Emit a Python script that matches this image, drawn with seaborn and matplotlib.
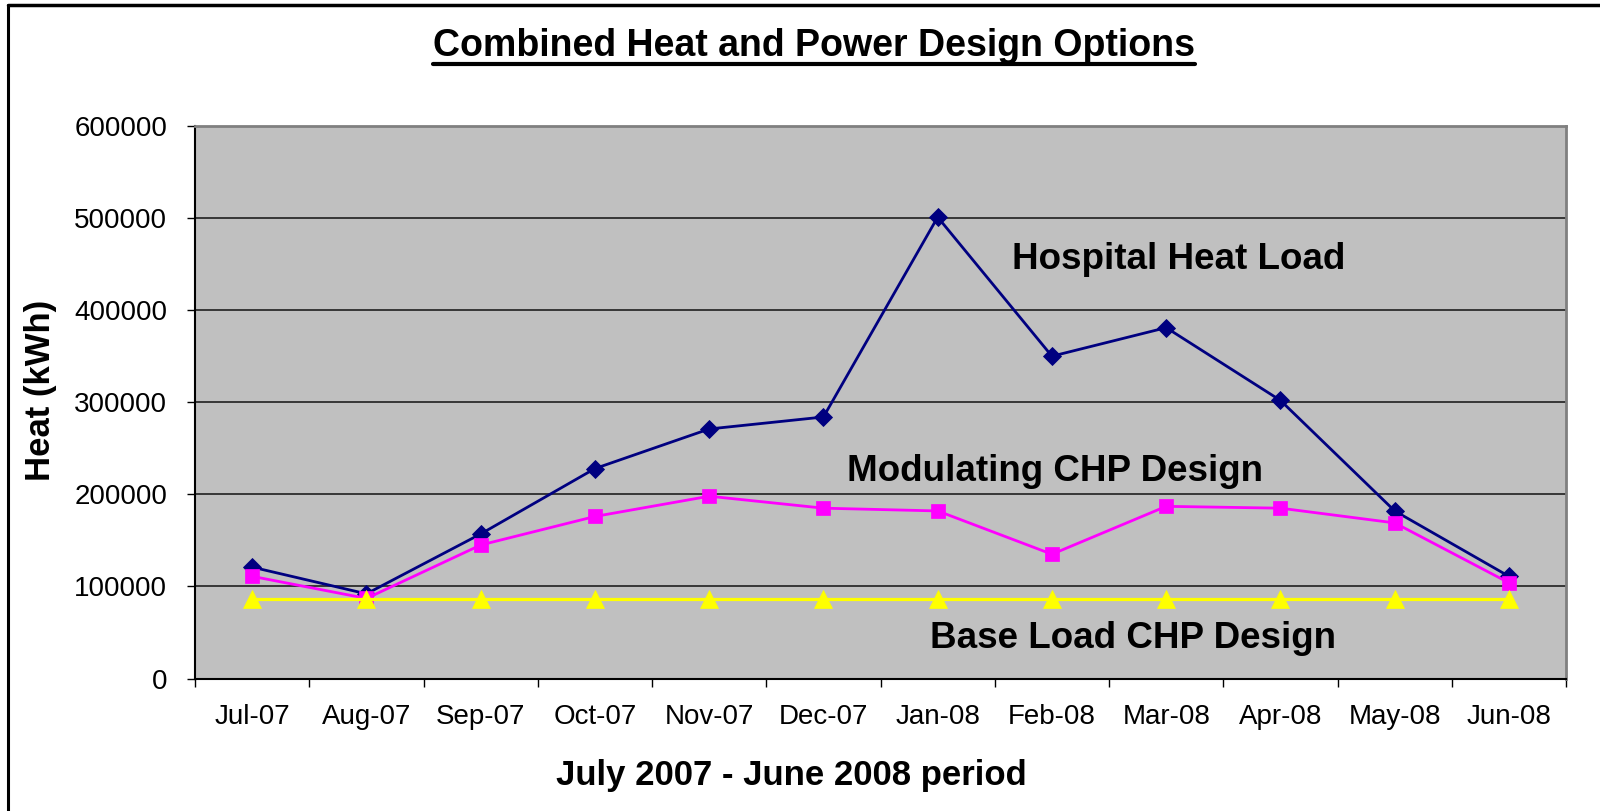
import numpy as np
import pandas as pd
import matplotlib
matplotlib.use("Agg")
import matplotlib.pyplot as plt
import seaborn as sns
from matplotlib.lines import Line2D

# Data
months = ["Jul-07", "Aug-07", "Sep-07", "Oct-07", "Nov-07", "Dec-07",
          "Jan-08", "Feb-08", "Mar-08", "Apr-08", "May-08", "Jun-08"]
hospital = [121000, 92000, 157000, 228000, 271000, 284000,
            501000, 350000, 381000, 302000, 182000, 111000]
modulating = [111000, 87000, 145000, 176000, 198000, 185000,
              182000, 135000, 187000, 185000, 169000, 104000]
base_load = [86500, 86500, 86500, 86500, 86500, 86500,
             86500, 86500, 86500, 86500, 86500, 86500]
yticks = [0, 100000, 200000, 300000, 400000, 500000, 600000]

df = pd.DataFrame({"month": months, "pos": np.arange(len(months)),
                   "hospital": hospital, "modulating": modulating,
                   "base": base_load})

sns.set_style("white")
plt.rcParams["font.family"] = ["Liberation Sans", "DejaVu Sans"]
plt.rcParams["text.color"] = "black"
plt.rcParams["axes.labelcolor"] = "black"
plt.rcParams["xtick.color"] = "black"
plt.rcParams["ytick.color"] = "black"

fig = plt.figure(figsize=(16, 8.11), dpi=100)
ax = fig.add_axes([0.1219, 0.1633, 0.8569, 0.6814])
ax.set_facecolor("#C0C0C0")

sns.lineplot(data=df, x="pos", y="hospital", ax=ax, color="#000080",
             marker="D", markersize=9, markeredgewidth=0.6,
             markeredgecolor="#000080", linewidth=2, zorder=3)
sns.lineplot(data=df, x="pos", y="modulating", ax=ax, color="#FF00FF",
             marker="s", markersize=10.5, markeredgewidth=0.5,
             markeredgecolor="#FF00FF", linewidth=2, zorder=4)
sns.lineplot(data=df, x="pos", y="base", ax=ax, color="#FFFF00",
             marker="^", markersize=12.5, markeredgewidth=0.5,
             markeredgecolor="#FFFF00", linewidth=2.3, zorder=5)

# axes
ax.set_xlim(-0.5, len(months) - 0.5)
ax.set_ylim(0, 600000)
ax.set_xticks(df["pos"])
ax.set_xticklabels(months, fontsize=20)
ax.set_xticks(np.arange(-0.5, len(months), 1), minor=True)
ax.tick_params(axis="x", which="major", length=0, pad=18)
ax.tick_params(axis="x", which="minor", length=6, width=1, color="black",
               direction="out", bottom=True)
ax.set_yticks(yticks)
ax.set_yticklabels([str(v) for v in yticks], fontsize=20)
ax.tick_params(axis="y", length=6, width=1, color="black", direction="out",
               pad=14, left=True)

ax.yaxis.grid(True, color="#202020", linewidth=1.2)
ax.set_axisbelow(True)
for side in ["top", "right"]:
    ax.spines[side].set_color("#808080")
    ax.spines[side].set_linewidth(2)
for side in ["left", "bottom"]:
    ax.spines[side].set_color("black")
    ax.spines[side].set_linewidth(1.5)

ax.set_xlabel("July 2007 - June 2008 period", fontsize=25, fontweight="bold")
ax.xaxis.set_label_coords(0.435, -0.145)
ax.set_ylabel("Heat (kWh)", fontsize=25, fontweight="bold")
ax.yaxis.set_label_coords(-0.101, 0.522)

# series labels inside the plot
ax.text(6.65, 444800, "Hospital Heat Load", fontsize=26.5, fontweight="bold",
        ha="left", va="baseline")
ax.text(5.21, 214700, "Modulating CHP Design", fontsize=26.5,
        fontweight="bold", ha="left", va="baseline")
ax.text(5.93, 33000, "Base Load CHP Design", fontsize=26.5,
        fontweight="bold", ha="left", va="baseline")

# underlined title
title = fig.text(0.509, 1 - 56 / 811, "Combined Heat and Power Design Options",
                 fontsize=27, fontweight="bold", ha="center", va="baseline")
fig.canvas.draw()
bb = title.get_window_extent()
uy = 1 - 64 / 811
fig.add_artist(Line2D([bb.x0 / 1600, bb.x1 / 1600], [uy, uy],
                      color="black", linewidth=3, transform=fig.transFigure))

# chart frame (left and top edges visible)
fig.add_artist(Line2D([8 / 1600, 8 / 1600], [0, 1 - 5 / 811], color="black",
                      linewidth=2.2, transform=fig.transFigure))
fig.add_artist(Line2D([8 / 1600, 1], [1 - 5 / 811, 1 - 5 / 811], color="black",
                      linewidth=2.5, transform=fig.transFigure))

plt.savefig("out.png", dpi=100)
plt.close()
